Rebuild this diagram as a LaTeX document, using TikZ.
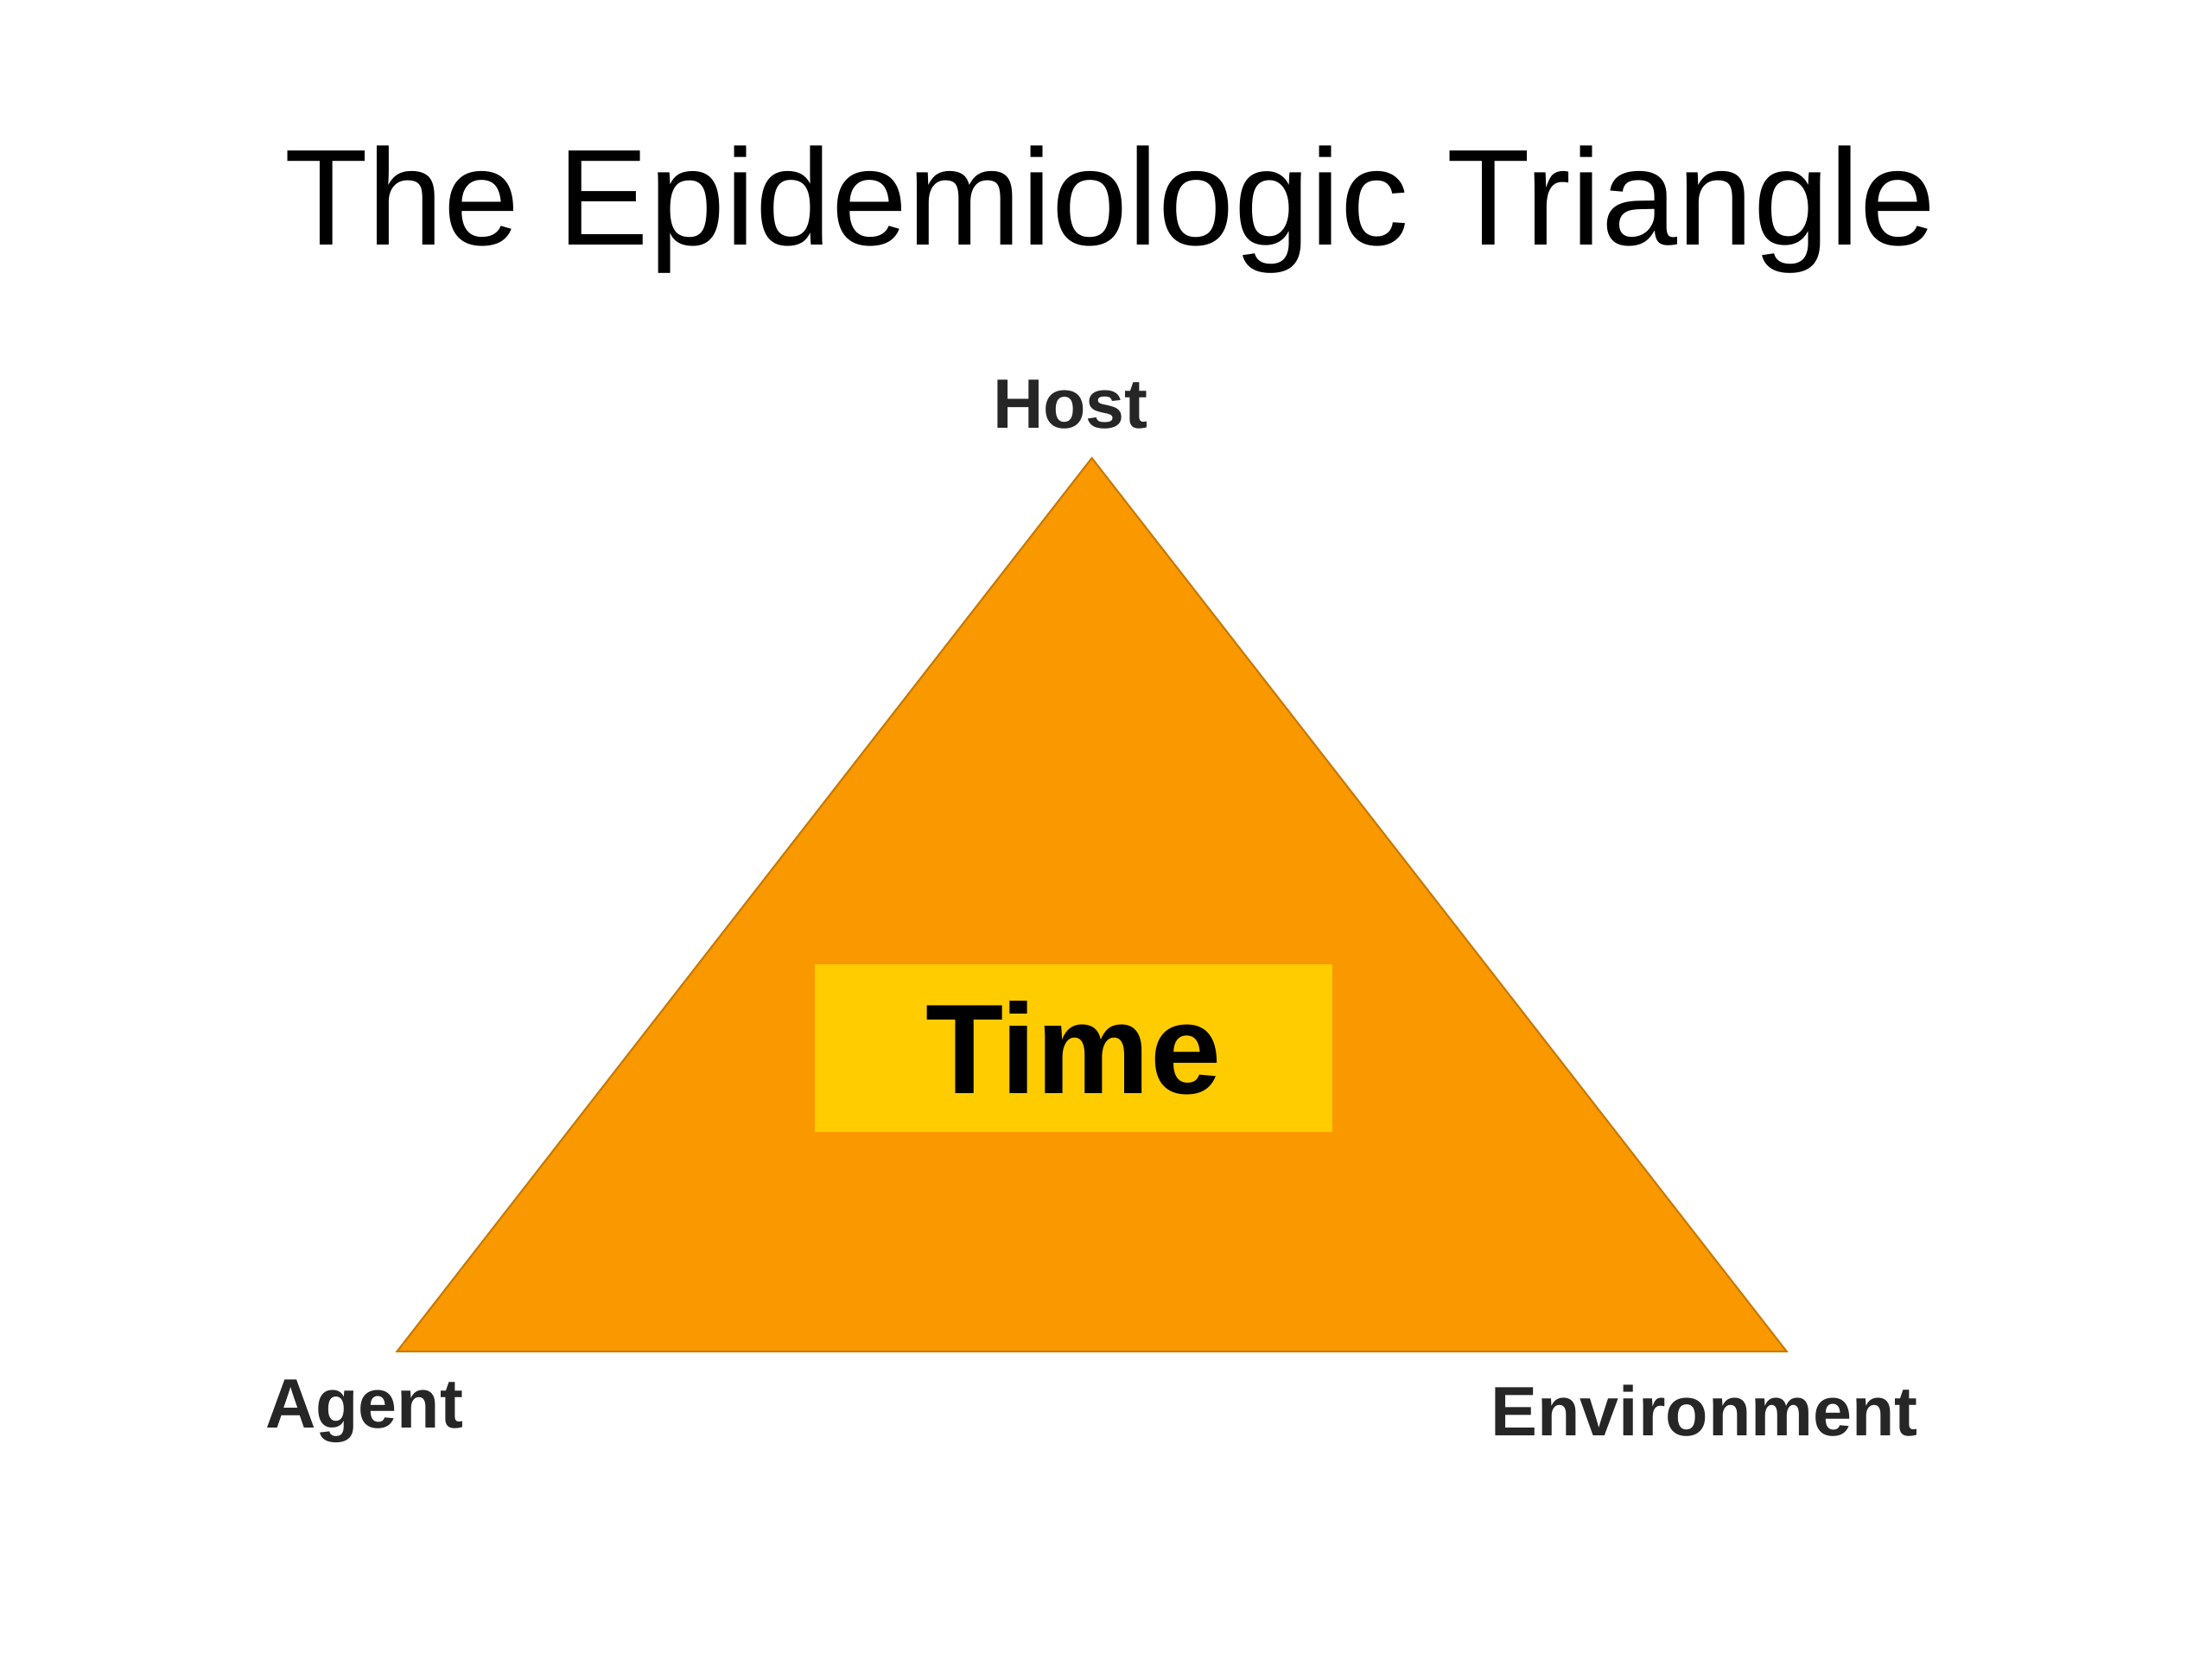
\documentclass[tikz,border=0pt]{standalone}
\usepackage{fontspec}
\setmainfont{Liberation Sans}
\usetikzlibrary{positioning}
\definecolor{triorange}{RGB}{250,152,0}
\definecolor{timeyellow}{RGB}{255,204,0}
\begin{document}
\begin{tikzpicture}[x=0.01641cm,y=-0.01641cm,
  corner/.style={font=\fontsize{23}{26}\selectfont\bfseries,text=black!85}]
\useasboundingbox (0,0) rectangle (1560,1170);

\node (title) at (783,148) {\fontsize{45}{50}\selectfont The Epidemiologic Triangle};

\coordinate (top) at (770,323);
\coordinate (left) at (280,953);
\coordinate (right) at (1260,953);
\filldraw[fill=triorange,draw=triorange!80!black,line width=0.6pt] (top) -- (right) -- (left) -- cycle;

\node[fill=timeyellow,minimum width=365*0.01641cm,minimum height=118*0.01641cm,
  font=\fontsize{42}{46}\selectfont\bfseries] (time) at (757,739) {Time};

\node[corner] (host) at (755,285) {Host};
\node[corner] (agent) at (257,995) {Agent};
\node[corner] (env) at (1202,995) {Environment};
\end{tikzpicture}
\end{document}
